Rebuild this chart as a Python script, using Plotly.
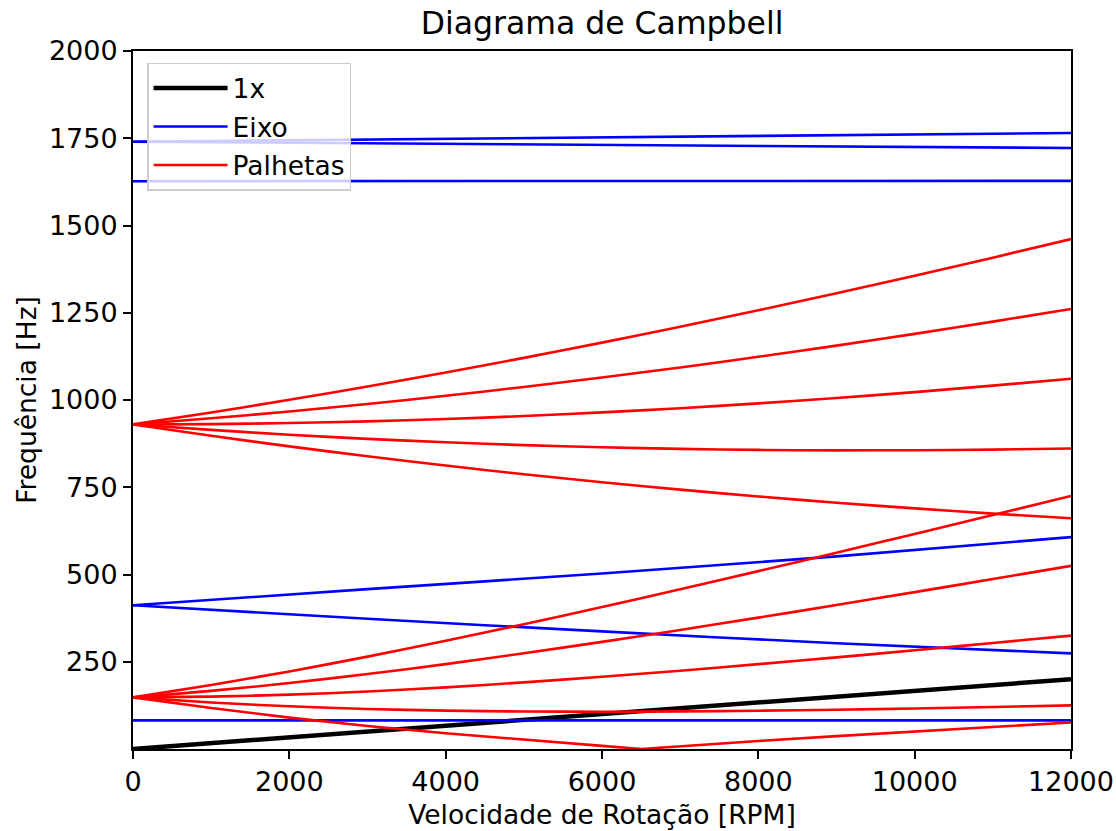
import plotly.graph_objects as go

# Rotation speed grid [RPM]
rpm = [0, 1000, 2000, 3000, 4000, 5000, 6000, 7000, 8000, 9000, 10000, 11000, 12000]

# Axis ticks
x_ticks = [0, 2000, 4000, 6000, 8000, 10000, 12000]
x_ticktext = ["0", "2000", "4000", "6000", "8000", "10000", "12000"]
y_ticks = [250, 500, 750, 1000, 1250, 1500, 1750, 2000]

# 1x excitation line [Hz]
rpm_1x = [0, 12000]
freq_1x = [0, 200]

# Shaft (Eixo) modes [Hz]
rpm_eixo_low = [0, 12000]
eixo_low = [82, 82]
rpm_eixo_mid = [0, 3000, 6000, 9000, 12000]
eixo_mid_fw = [412, 458, 503, 552, 607]
eixo_mid_bw = [412, 373, 337, 303, 274]
rpm_eixo_top = [0, 6000, 12000]
eixo_top_fw = [1740, 1752, 1765]
eixo_top_bw = [1740, 1731, 1722]
eixo_top_flat = [1627, 1627, 1628]

# Blade (Palhetas) modes, first family [Hz]
pal1_p2 = [148, 183.3, 222.3, 264.7, 310.0, 357.5, 406.9, 457.8, 509.7, 562.6, 616.2, 670.3, 724.9]
pal1_p1 = [148, 166.6, 189.0, 214.7, 243.3, 274.2, 306.9, 341.1, 376.4, 412.6, 449.5, 487.0, 524.9]
pal1_0 = [148, 150.0, 155.7, 164.7, 176.6, 190.9, 206.9, 224.4, 243.1, 262.6, 282.9, 303.7, 324.9]
pal1_m1 = [148, 133.3, 122.3, 114.7, 110.0, 107.5, 106.9, 107.8, 109.7, 112.6, 116.2, 120.3, 124.9]
rpm_pal1_m2 = [0, 1000, 2000, 3000, 4000, 5000, 6000, 6500, 7000, 8000, 9000, 10000, 11000, 12000]
pal1_m2 = [148, 117.5, 90.0, 66.0, 45.0, 26.0, 9.0, 0, 8.0, 23.0, 37.0, 50.5, 63.0, 76.0]

# Blade (Palhetas) modes, second family [Hz]
pal2_p2 = [930, 964.3, 1000.6, 1038.7, 1078.8, 1120.7, 1164.4, 1209.9, 1257.0, 1305.8, 1356.1, 1407.8, 1461.0]
pal2_p1 = [930, 947.6, 967.2, 988.7, 1012.1, 1037.4, 1064.4, 1093.2, 1123.7, 1155.8, 1189.4, 1224.5, 1261.0]
pal2_0 = [930, 931.0, 933.9, 938.7, 945.4, 954.0, 964.4, 976.5, 990.4, 1005.8, 1022.7, 1041.2, 1061.0]
pal2_m1 = [930, 914.3, 900.6, 888.7, 878.8, 870.7, 864.4, 859.9, 857.0, 855.8, 856.1, 857.8, 861.0]
pal2_m2 = [930, 897.6, 867.2, 838.7, 812.1, 787.4, 764.4, 743.2, 723.7, 705.8, 689.4, 674.5, 661.0]

FONT = "DejaVu Sans"
fig = go.Figure()

fig.add_trace(go.Scatter(x=rpm_1x, y=freq_1x, mode="lines", name="1x",
                         line=dict(color="black", width=4.5), legendgroup="1x"))

eixo_series = [
    (rpm_eixo_low, eixo_low, "linear"),
    (rpm_eixo_mid, eixo_mid_fw, "spline"),
    (rpm_eixo_mid, eixo_mid_bw, "spline"),
    (rpm_eixo_top, eixo_top_fw, "linear"),
    (rpm_eixo_top, eixo_top_bw, "linear"),
    (rpm_eixo_top, eixo_top_flat, "linear"),
]
for i, (xs, ys, shape) in enumerate(eixo_series):
    fig.add_trace(go.Scatter(x=xs, y=ys, mode="lines", name="Eixo",
                             line=dict(color="blue", width=2.6, shape=shape, smoothing=0.8),
                             legendgroup="eixo", showlegend=(i == 0)))

pal_series = [
    (rpm, pal1_p2, "spline"),
    (rpm, pal1_p1, "spline"),
    (rpm, pal1_0, "spline"),
    (rpm, pal1_m1, "spline"),
    (rpm_pal1_m2, pal1_m2, "linear"),
    (rpm, pal2_p2, "spline"),
    (rpm, pal2_p1, "spline"),
    (rpm, pal2_0, "spline"),
    (rpm, pal2_m1, "spline"),
    (rpm, pal2_m2, "spline"),
]
for i, (xs, ys, shape) in enumerate(pal_series):
    fig.add_trace(go.Scatter(x=xs, y=ys, mode="lines", name="Palhetas",
                             line=dict(color="red", width=2.6, shape=shape, smoothing=0.8),
                             legendgroup="pal", showlegend=(i == 0)))

axis_common = dict(
    showgrid=False, zeroline=False, showline=True, linecolor="black", linewidth=2,
    mirror=True, ticks="outside", ticklen=8, tickwidth=2, tickcolor="black",
    tickfont=dict(family=FONT, size=27, color="black"), automargin=False,
)

fig.update_layout(
    width=1116, height=831,
    margin=dict(l=133, r=45, t=51, b=82),
    paper_bgcolor="white", plot_bgcolor="white",
    font=dict(family=FONT, size=26.5, color="black"),
    title=dict(text="Diagrama de Campbell", x=0.5395, xanchor="center",
               y=1 - 23 / 831, yanchor="middle", font=dict(family=FONT, size=31.5)),
    xaxis=dict(range=[0, 12000], tickvals=x_ticks, ticktext=x_ticktext,
               title=dict(text="Velocidade de Rotação [RPM]", standoff=9,
                          font=dict(family=FONT, size=26.5)),
               **axis_common),
    yaxis=dict(range=[0, 2000], tickvals=y_ticks,
               title=dict(text="Frequência [Hz]", standoff=5,
                          font=dict(family=FONT, size=26.5)),
               **axis_common),
    legend=dict(x=0.015, y=0.983, xanchor="left", yanchor="top",
                bgcolor="rgba(255,255,255,0.8)", bordercolor="#cccccc", borderwidth=1.5,
                font=dict(family=FONT, size=26.5), tracegroupgap=1, itemwidth=74),
    showlegend=True,
)

fig.write_html("out.html")
